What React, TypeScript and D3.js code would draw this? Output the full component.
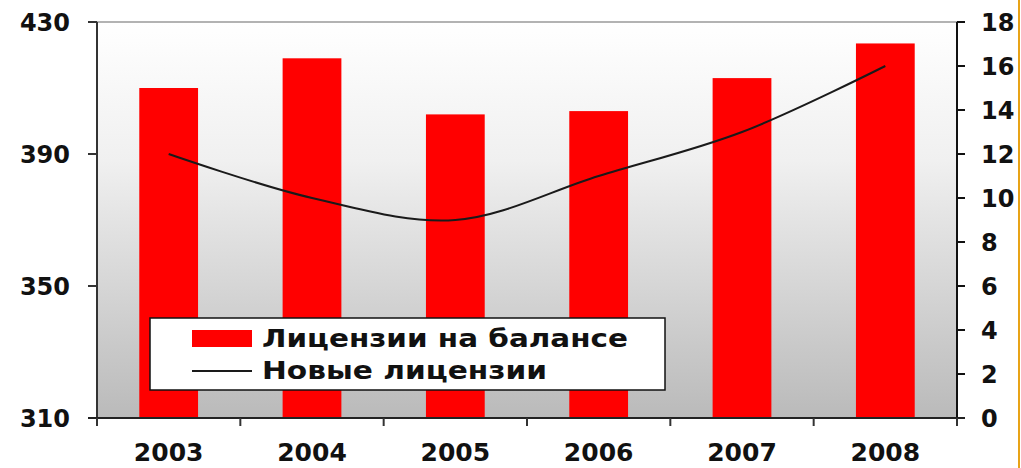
import React from 'react';
import * as d3 from 'd3';

// values
const years = ['2003', '2004', '2005', '2006', '2007', '2008'];
const licensesOnBalance = [410, 419, 402, 403, 413, 423.5];
const newLicenses = [12, 10, 9, 11, 13, 16];
const leftTicks = [310, 350, 390, 430];
const rightTicks = [0, 2, 4, 6, 8, 10, 12, 14, 16, 18];
const legendLabels = ['Лицензии на балансе', 'Новые лицензии'];
const legendWidths = [366, 285];

const W = 1021;
const H = 468;
const margin = { top: 22, right: 64, bottom: 50, left: 97 };
const FONT = '"DejaVu Sans", Verdana, sans-serif';

const App = () => {
  const x0 = margin.left;
  const x1 = W - margin.right;
  const y0 = margin.top;
  const y1 = H - margin.bottom;

  const x = d3.scaleBand<string>()
    .domain(years)
    .range([x0, x1])
    .paddingInner(0.59)
    .paddingOuter(0.295);

  const yLeft = d3.scaleLinear().domain([310, 430]).range([y1, y0]);
  const yRight = d3.scaleLinear().domain([0, 18]).range([y1, y0]);

  const line = d3.line<number>()
    .x((_, i) => (x(years[i]) as number) + x.bandwidth() / 2)
    .y(d => yRight(d))
    .curve(d3.curveCatmullRom.alpha(0.5));

  const step = x.step();
  const catTicks = d3.range(years.length + 1).map(i => x0 + i * step);

  return (
    <svg width={W} height={H} style={{ position: 'absolute', left: 0, top: 0, background: '#fff' }}>
      <defs>
        <linearGradient id="bg" x1="0" y1="0" x2="0" y2="1">
          <stop offset="0" stopColor="#ffffff" />
          <stop offset="0.35" stopColor="#f0f0f0" />
          <stop offset="1" stopColor="#bababa" />
        </linearGradient>
      </defs>

      {/* plot background */}
      <rect x={x0} y={y0} width={x1 - x0} height={y1 - y0} fill="url(#bg)" />
      <line x1={x0} x2={x1} y1={y0} y2={y0} stroke="#9a9a9a" strokeWidth={1.5} />

      {/* bars */}
      {licensesOnBalance.map((v, i) => (
        <rect
          key={years[i]}
          x={x(years[i])}
          y={yLeft(v)}
          width={x.bandwidth()}
          height={y1 - yLeft(v)}
          fill="#ff0000"
        />
      ))}

      {/* new licenses line */}
      <path d={line(newLicenses) || ''} fill="none" stroke="#1a1a1a" strokeWidth={2} />

      {/* left axis */}
      <line x1={x0} x2={x0} y1={y0} y2={y1} stroke="#333" strokeWidth={2} />
      {leftTicks.map(t => (
        <g key={t}>
          <line x1={x0 - 9} x2={x0} y1={yLeft(t)} y2={yLeft(t)} stroke="#333" strokeWidth={2} />
          <text
            x={70}
            y={yLeft(t)}
            dy="0.36em"
            textAnchor="end"
            fontFamily={FONT}
            fontWeight="bold"
            fontSize={24}
            fill="#111"
          >
            {t}
          </text>
        </g>
      ))}

      {/* right axis */}
      <line x1={x1} x2={x1} y1={y0} y2={y1} stroke="#111" strokeWidth={2} />
      {rightTicks.map(t => (
        <g key={t}>
          <line x1={x1} x2={x1 + 8} y1={yRight(t)} y2={yRight(t)} stroke="#111" strokeWidth={2} />
          <text
            x={981}
            y={yRight(t)}
            dy="0.36em"
            textAnchor="start"
            fontFamily={FONT}
            fontWeight="bold"
            fontSize={24}
            fill="#111"
          >
            {t}
          </text>
        </g>
      ))}

      {/* category axis */}
      <line x1={x0 - 9} x2={x1 + 8} y1={y1} y2={y1} stroke="#222" strokeWidth={2} />
      {catTicks.map((cx, i) => (
        <line key={i} x1={cx} x2={cx} y1={y1} y2={y1 + 8} stroke="#333" strokeWidth={2} />
      ))}
      {years.map(yr => (
        <text
          key={yr}
          x={(x(yr) as number) + x.bandwidth() / 2}
          y={461}
          textAnchor="middle"
          fontFamily={FONT}
          fontWeight="bold"
          fontSize={25}
          fill="#111"
        >
          {yr}
        </text>
      ))}

      {/* legend */}
      <g>
        <rect x={150} y={318} width={515} height={72} fill="#fff" stroke="#111" strokeWidth={1.5} />
        <rect x={192} y={330} width={60} height={17} fill="#ff0000" />
        <line x1={192} x2={252} y1={371} y2={371} stroke="#1a1a1a" strokeWidth={2} />
        {legendLabels.map((lbl, i) => (
          <text
            key={lbl}
            x={262}
            y={347 + i * 32}
            fontFamily={FONT}
            fontWeight="bold"
            fontSize={24}
            fill="#111"
            textLength={legendWidths[i]}
            lengthAdjust="spacingAndGlyphs"
          >
            {lbl}
          </text>
        ))}
      </g>

      {/* slide frame edge */}
      <line x1={1019} x2={1019} y1={0} y2={H} stroke="#e8a317" strokeWidth={2} />
    </svg>
  );
};

export default App;
